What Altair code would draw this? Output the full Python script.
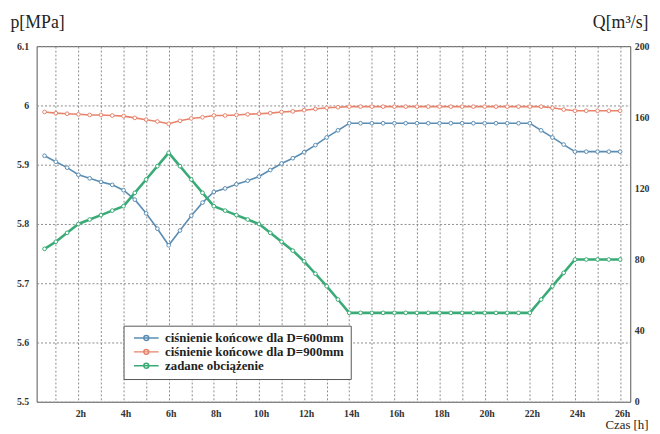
import altair as alt
import pandas as pd

# --- data ---
hours = [0.5, 1, 1.5, 2, 2.5, 3, 3.5, 4, 4.5, 5, 5.5, 6, 6.5, 7, 7.5, 8, 8.5, 9, 9.5, 10,
         10.5, 11, 11.5, 12, 12.5, 13, 13.5, 14, 14.5, 15, 15.5, 16, 16.5, 17, 17.5, 18,
         18.5, 19, 19.5, 20, 20.5, 21, 21.5, 22, 22.5, 23, 23.5, 24, 24.5, 25, 25.5, 26]

p_d600 = [5.915, 5.905, 5.895, 5.883, 5.877, 5.871, 5.866, 5.857, 5.841, 5.818, 5.792, 5.764,
          5.789, 5.814, 5.836, 5.854, 5.860, 5.867, 5.873, 5.880, 5.891, 5.902, 5.911, 5.921,
          5.933, 5.946, 5.958, 5.970, 5.970, 5.970, 5.970, 5.970, 5.970, 5.970, 5.970, 5.970,
          5.970, 5.970, 5.970, 5.970, 5.970, 5.970, 5.970, 5.970, 5.958, 5.946, 5.934, 5.922,
          5.922, 5.922, 5.922, 5.922]

p_d900 = [5.989, 5.987, 5.986, 5.985, 5.984, 5.984, 5.983, 5.982, 5.979, 5.976, 5.973, 5.969,
          5.974, 5.978, 5.980, 5.983, 5.983, 5.984, 5.985, 5.986, 5.987, 5.989, 5.990, 5.992,
          5.994, 5.996, 5.997, 5.998, 5.998, 5.998, 5.998, 5.998, 5.998, 5.998, 5.998, 5.998,
          5.998, 5.998, 5.998, 5.998, 5.998, 5.998, 5.998, 5.998, 5.998, 5.996, 5.993, 5.991,
          5.991, 5.991, 5.991, 5.991]

load = [86, 90, 95, 100, 102.5, 105, 107.5, 110, 117.5, 125, 132.5, 140,
        132.5, 125, 117.5, 110, 107.5, 105, 102.5, 100, 95, 90, 85, 79,
        72, 65, 57.5, 50, 50, 50, 50, 50, 50, 50, 50, 50,
        50, 50, 50, 50, 50, 50, 50, 50, 57.5, 65, 72.5, 80,
        80, 80, 80, 80]

series_names = ["ciśnienie końcowe dla D=600mm", "ciśnienie końcowe dla D=900mm", "zadane obciążenie"]
series_colors = ["#5b8db3", "#e8836b", "#3aab76"]

left_ticks = [5.5, 5.6, 5.7, 5.8, 5.9, 6.0, 6.1]
right_ticks = [0, 40, 80, 120, 160, 200]
hour_grid = list(range(1, 27))

# --- tables ---
press = pd.DataFrame({
    "h": hours * 2,
    "p": p_d600 + p_d900,
    "s": [series_names[0]] * len(hours) + [series_names[1]] * len(hours),
})
flow = pd.DataFrame({"h": hours, "q": load, "s": [series_names[2]] * len(hours)})

FONT = "Liberation Serif"

color = alt.Color(
    "s:N",
    scale=alt.Scale(domain=series_names, range=series_colors),
    legend=alt.Legend(
        title=None,
        orient="none",
        legendX=88,
        legendY=283,
        symbolType="M-1,0L4,0M1,0A0.5,0.5,0,1,1,2,0A0.5,0.5,0,1,1,1,0",
        symbolSize=100,
        symbolOffset=3,
        symbolStrokeWidth=1.5,
        labelOffset=20,
        labelLimit=0,
        labelFont=FONT,
        labelFontWeight="bold",
        labelFontSize=13,
        labelColor="#222",
        rowPadding=0,
        padding=6,
        strokeColor="#555",
        fillColor="white",
    ),
)

xenc = alt.X(
    "h:Q",
    scale=alt.Scale(domain=[0.15, 26.45], nice=False, zero=False),
    axis=alt.Axis(
        values=hour_grid,
        labelExpr="datum.value % 2 == 0 ? datum.value + 'h' : ''",
        grid=True,
        gridDash=[2, 2],
        gridColor="#8a8a8a",
        ticks=False,
        domain=False,
        labelPadding=7,
        labelOffset=2,
        title="Czas [h]",
        titleFont=FONT,
        titleFontWeight="normal",
        titleFontSize=13,
        titleColor="#222",
        titleAlign="right",
        titleAnchor="start",
        titleX=619,
        titleY=27,
        titleBaseline="alphabetic",
    ),
)

pt_def = alt.OverlayMarkDef(filled=False, fill="white", size=14, strokeWidth=1)

left = alt.Chart(press).mark_line(strokeWidth=1.6, point=pt_def).encode(
    x=xenc,
    y=alt.Y(
        "p:Q",
        scale=alt.Scale(domain=[5.5, 6.1], nice=False, zero=False),
        axis=alt.Axis(
            values=left_ticks,
            format=".1~f",
            grid=True,
            gridDash=[2, 2],
            gridColor="#8a8a8a",
            ticks=False,
            domain=False,
            labelPadding=8,
            title="p[MPa]",
            titleAngle=0,
            titleFont=FONT,
            titleFontWeight="normal",
            titleFontSize=18,
            titleColor="#222",
            titleAlign="left",
            titleAnchor="start",
            titleX=-27,
            titleY=-19,
            titleBaseline="alphabetic",
        ),
    ),
    color=color,
)

right = alt.Chart(flow).mark_line(strokeWidth=2.6, point=pt_def).encode(
    x=xenc,
    y=alt.Y(
        "q:Q",
        scale=alt.Scale(domain=[0, 200], nice=False, zero=False),
        axis=alt.Axis(
            orient="right",
            values=right_ticks,
            grid=False,
            ticks=False,
            domain=False,
            labelPadding=4,
            title="Q[m³/s]",
            titleAngle=0,
            titleFont=FONT,
            titleFontWeight="normal",
            titleFontSize=18,
            titleColor="#222",
            titleAlign="right",
            titleAnchor="start",
            titleX=18,
            titleY=-19,
            titleBaseline="alphabetic",
        ),
    ),
    color=color,
)

chart = (
    alt.layer(left, right)
    .resolve_scale(y="independent")
    .properties(
        width=601,
        height=360,
        autosize=alt.AutoSizeParams(type="none"),
        padding={"left": 29, "top": 36, "right": 22, "bottom": 30},
        background="white",
    )
    .configure_view(stroke="#555", strokeWidth=1)
    .configure_axis(
        labelFont=FONT,
        labelFontWeight="bold",
        labelFontSize=10,
        labelColor="#333",
    )
)

chart.save("out.html", embed_options={"renderer": "svg", "actions": False})
